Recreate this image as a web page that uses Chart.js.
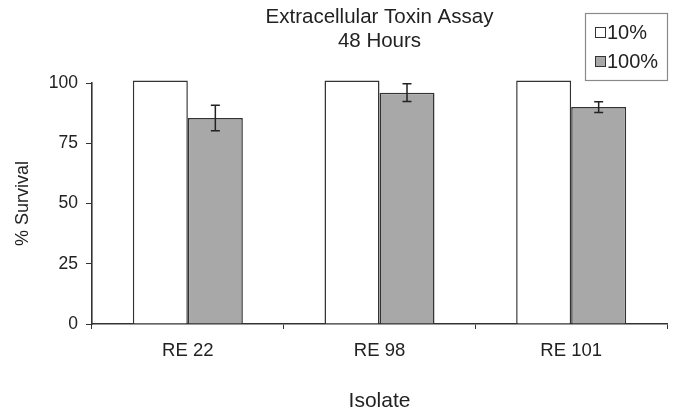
<!DOCTYPE html>
<html>
<head>
<meta charset="utf-8">
<script src="https://cdn.jsdelivr.net/npm/chart.js@4.4.0/dist/chart.umd.min.js"></script>
<style>
  html, body { margin: 0; padding: 0; background: #fff; }
  #wrap { width: 675px; height: 414px; }
</style>
</head>
<body>
<div id="wrap"><canvas id="myChart" width="675" height="414"></canvas></div>
<script>
const isolates = ['RE 22', 'RE 98', 'RE 101'];
const survival10 = [101, 101, 101];
const survival100 = [85.5, 96, 90];
const err100 = [5.3, 3.7, 2.2];
const yTicks = [0, 25, 50, 75, 100];
const titleLines = ['Extracellular Toxin Assay', '48 Hours'];

const FONT = "'Liberation Sans', Arial, Helvetica, sans-serif";
const INK = '#222';

// error bars on the 100% series
const errorBars = {
  id: 'errorBars',
  afterDatasetsDraw(chart) {
    const c = chart.ctx, y = chart.scales.y;
    const meta = chart.getDatasetMeta(1);
    c.save();
    c.strokeStyle = '#222';
    c.lineWidth = 1.5;
    meta.data.forEach((bar, i) => {
      const v = survival100[i], e = err100[i];
      const top = y.getPixelForValue(v + e), bot = y.getPixelForValue(v - e);
      c.beginPath();
      c.moveTo(bar.x, top); c.lineTo(bar.x, bot);
      c.moveTo(bar.x - 4.5, top); c.lineTo(bar.x + 4.5, top);
      c.moveTo(bar.x - 4.5, bot); c.lineTo(bar.x + 4.5, bot);
      c.stroke();
    });
    c.restore();
  }
};

// title centred over plot + boxed legend top right
const titleAndLegend = {
  id: 'titleAndLegend',
  afterDraw(chart) {
    const c = chart.ctx, a = chart.chartArea;
    c.save();
    c.fillStyle = INK;
    c.font = '20.5px ' + FONT;
    c.textAlign = 'center';
    c.textBaseline = 'middle';
    const cx = (a.left + a.right) / 2;
    c.fillText(titleLines[0], cx, 17);
    c.fillText(titleLines[1], cx, 41);

    // legend box
    c.strokeStyle = '#8a8a8a';
    c.lineWidth = 1.2;
    c.strokeRect(585.5, 13.5, 82, 67);
    const items = [
      { label: '10%', fill: '#ffffff', y: 32 },
      { label: '100%', fill: '#a8a8a8', y: 61 }
    ];
    c.textAlign = 'left';
    c.font = '20px ' + FONT;
    items.forEach(it => {
      c.fillStyle = it.fill;
      c.fillRect(595, it.y - 5, 10, 10);
      c.strokeStyle = '#333';
      c.lineWidth = 1;
      c.strokeRect(595.5, it.y - 4.5, 10, 10);
      c.fillStyle = INK;
      c.fillText(it.label, 607, it.y + 1);
    });
    c.restore();
  }
};

const ctx = document.getElementById('myChart');
const myChart = new Chart(ctx, {
  type: 'bar',
  data: {
    labels: isolates,
    datasets: [
      {
        label: '10%',
        data: survival10,
        backgroundColor: '#ffffff',
        borderColor: '#333',
        borderWidth: 1.5,
        categoryPercentage: 0.574,
        barPercentage: 1.0,
        clip: false
      },
      {
        label: '100%',
        data: survival100,
        backgroundColor: '#a8a8a8',
        borderColor: '#333',
        borderWidth: 1.5,
        categoryPercentage: 0.574,
        barPercentage: 1.0,
        clip: false
      }
    ]
  },
  options: {
    responsive: false,
    animation: false,
    devicePixelRatio: 1,
    layout: { padding: { top: 83, right: 8, left: 0, bottom: 0 } },
    plugins: {
      legend: { display: false },
      title: { display: false },
      tooltip: { enabled: false }
    },
    scales: {
      x: {
        grid: { drawOnChartArea: false, drawTicks: true, tickLength: 5, color: '#333', offset: true },
        border: { color: '#333', width: 1.6 },
        ticks: { color: INK, font: { family: FONT, size: 18.5 }, padding: 11 },
        title: { display: true, text: 'Isolate', color: INK, font: { family: FONT, size: 21 }, padding: { top: 0, bottom: 0 } },
        afterFit(scale) { scale.height = 90; }
      },
      y: {
        min: 0,
        max: 100,
        afterBuildTicks(scale) { scale.ticks = yTicks.map(v => ({ value: v })); },
        grid: { drawOnChartArea: false, drawTicks: true, tickLength: 6, color: '#333' },
        border: { color: '#333', width: 1.6 },
        ticks: { color: INK, font: { family: FONT, size: 17.5 }, padding: 8 },
        title: { display: true, text: '% Survival', color: INK, font: { family: FONT, size: 18 }, padding: { top: 12, bottom: 0 } },
        afterFit(scale) { scale.width = 92; }
      }
    }
  },
  plugins: [errorBars, titleAndLegend]
});
</script>
</body>
</html>
